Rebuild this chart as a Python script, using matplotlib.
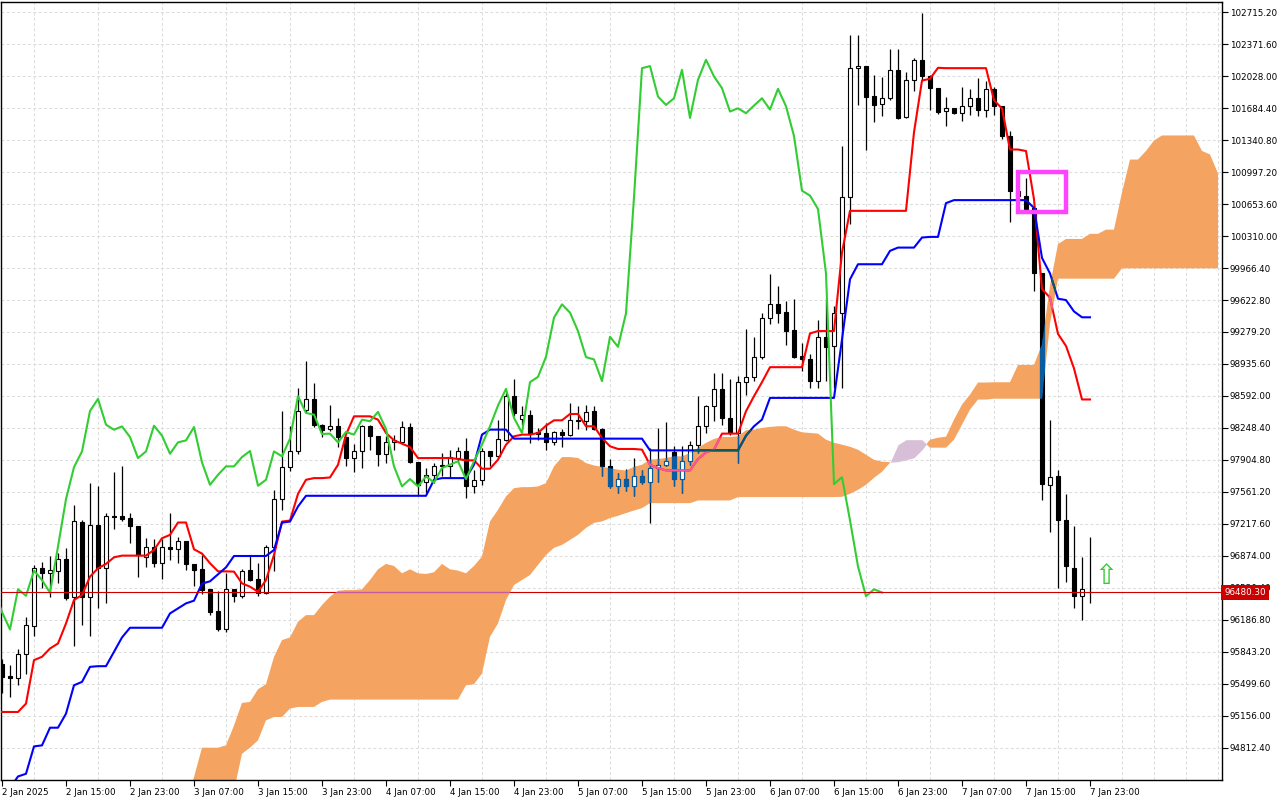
import numpy as np
import matplotlib.pyplot as plt
from matplotlib.path import Path
from matplotlib.patches import Rectangle

# hourly candles, bar 0 = 2 Jan 2025 07:00
opens = [95709, 95580, 95566, 95814, 96122, 96743, 96693, 96715, 96840, 96428,
         97239, 96435, 97207, 96740, 97303, 97303, 97278, 97196, 96865, 96973,
         96801, 96966, 96944, 97034, 96787, 96733, 96517, 96280, 96090, 96513,
         96445, 96722, 96621, 96470, 96973, 97483, 97827, 97996, 98440, 98560,
         98283, 98237, 98265, 98150, 97924, 97996, 98272, 98158, 97971, 98100,
         98097, 98258, 97878, 97662, 97745, 97850, 97842, 97930, 98004, 97627,
         97684, 97996, 97943, 98122, 98596, 98345, 98391, 98201, 98194, 98097,
         98208, 98169, 98337, 98320, 98427, 98237, 97835, 97620, 97699, 97620,
         97735, 97663, 97817, 97853, 97990, 97699, 97889, 98069, 98266, 98481,
         98668, 98356, 98194, 98740, 98797, 99013, 99433, 99576, 99494, 99300,
         99020, 98984, 98751, 99228, 99127, 99480, 100725, 102114, 102136, 101813,
         101727, 101791, 102096, 101586, 101989, 102204, 102025, 101902, 101651, 101687,
         101630, 101712, 101791, 101669, 101892, 101705, 101389, 100797, 100742, 100610,
         99908, 97634, 97730, 97256, 96744, 96440, 96490]
highs = [95760, 95699, 95878, 96219, 96776, 96808, 96873, 96901, 96955, 97422,
         97260, 97655, 97619, 97339, 97770, 97835, 97332, 97196, 97063, 97052,
         97052, 97339, 97074, 97034, 96790, 96883, 96520, 96499, 96686, 96520,
         96730, 96872, 96793, 96990, 97583, 98434, 98272, 98678, 98965, 98732,
         98290, 98499, 98355, 98155, 98079, 98283, 98280, 98165, 98158, 98175,
         98319, 98301, 97885, 97816, 97871, 97979, 98014, 98040, 98140, 97799,
         98032, 98000, 98337, 98625, 98775, 98481, 98445, 98248, 98302, 98212,
         98237, 98517, 98481, 98499, 98481, 98250, 97914, 97763, 97806, 97925,
         97792, 98033, 98248, 98313, 98051, 98051, 98105, 98596, 98499, 98840,
         98840, 98776, 98805, 99307, 99228, 99487, 99899, 99774, 99612, 99630,
         99164, 99038, 99408, 99630, 99558, 101281, 102473, 102473, 102140, 102042,
         102017, 102315, 102322, 102078, 102222, 102710, 102042, 101905, 101802, 101690,
         101910, 101885, 102007, 101981, 101910, 101710, 101443, 100850, 100930, 100615,
         99915, 98331, 97793, 97534, 97189, 96866, 97081]
lows = [95400, 95357, 95483, 95609, 96011, 96524, 96435, 96578, 96399, 95903,
        96130, 96011, 96309, 96370, 97160, 97250, 97009, 96650, 96758, 96758,
        96621, 96830, 96794, 96722, 96550, 96463, 96241, 96069, 96058, 96380,
        96420, 96600, 96441, 96460, 96714, 97361, 97781, 97967, 98420, 98258,
        98150, 98211, 98043, 97834, 97770, 97816, 98007, 97842, 97870, 98014,
        98090, 97870, 97529, 97547, 97655, 97727, 97709, 97880, 97494, 97548,
        97637, 97835, 97925, 98104, 98373, 98284, 98086, 98122, 98014, 98068,
        98043, 98158, 98237, 98230, 98230, 97727, 97602, 97548, 97566, 97519,
        97649, 97225, 97663, 97840, 97620, 97548, 97853, 97979, 98194, 98320,
        98284, 98176, 97871, 98607, 98751, 98984, 99361, 99379, 99135, 99002,
        98858, 98679, 98679, 98750, 98679, 98679, 100438, 101719, 101238, 101540,
        101604, 101777, 101569, 101576, 101874, 101981, 101669, 101622, 101497, 101620,
        101551, 101612, 101604, 101586, 101612, 101353, 100456, 100700, 100595, 99722,
        97478, 97126, 96533, 96588, 96310, 96180, 96366]
closes = [95573, 95566, 95817, 96130, 96740, 96693, 96722, 96837, 96424, 97250,
          96435, 97203, 96740, 97303, 97296, 97271, 97189, 96883, 96973, 96801,
          96966, 96944, 97034, 96783, 96722, 96507, 96270, 96083, 96514, 96445,
          96714, 96614, 96477, 96973, 97483, 97827, 97996, 98430, 98560, 98283,
          98229, 98265, 98150, 97924, 97996, 98272, 98165, 97971, 98093, 98114,
          98258, 97878, 97637, 97744, 97835, 97835, 97935, 98000, 97627, 97691,
          97996, 97943, 98133, 98589, 98409, 98391, 98183, 98187, 98093, 98205,
          98176, 98337, 98320, 98420, 98237, 97835, 97620, 97699, 97620, 97727,
          97663, 97817, 97853, 97890, 97699, 97889, 98069, 98266, 98489, 98668,
          98356, 98194, 98740, 98797, 99013, 99433, 99576, 99487, 99289, 99009,
          98984, 98751, 99228, 99120, 99480, 100725, 102114, 102136, 101809, 101719,
          101791, 102096, 101579, 101989, 102204, 102025, 101899, 101648, 101683, 101630,
          101712, 101791, 101669, 101892, 101705, 101385, 100797, 100745, 100600, 99908,
          97645, 97719, 97256, 96760, 96440, 96514, 96480.3]

tenkan = [95196, 95196, 95196, 95286, 95753, 95789, 95878, 95932, 96147, 96399,
          96453, 96650, 96740, 96787, 96858, 96876, 96876, 96876, 96876, 96937,
          97063, 97099, 97232, 97232, 96944, 96898, 96794, 96707, 96707, 96704,
          96578, 96542, 96488, 96614, 96883, 97242, 97253, 97540, 97691, 97709,
          97709, 97716, 97852, 98176, 98373, 98373, 98373, 98337, 98194, 98115,
          98079, 98043, 97924, 97924, 97925, 97925, 97925, 97914, 97900, 97900,
          97810, 97810, 97907, 98068, 98158, 98176, 98176, 98194, 98273, 98330,
          98330, 98398, 98398, 98266, 98266, 98140, 98051, 98022, 98022, 98022,
          98015, 97853, 97817, 97792, 97792, 97792, 97792, 97914, 97986, 98015,
          98187, 98187, 98187, 98428, 98589, 98740, 98901, 98901, 98901, 98901,
          98901, 99264, 99289, 99289, 99289, 100133, 100581, 100581, 100581, 100581,
          100581, 100581, 100581, 100581, 101425, 101981, 102000, 102118, 102114, 102114,
          102114, 102114, 102114, 102114, 101770, 101680, 101240, 101240, 101224, 100705,
          99741, 99648, 99259, 99129, 98888, 98554, 98554]
kijun = [94300, 94380, 94503, 94532, 94826, 94837, 95027, 95027, 95178, 95483,
         95519, 95681, 95688, 95688, 95843, 95997, 96101, 96101, 96101, 96101,
         96101, 96255, 96309, 96363, 96392, 96575, 96600, 96675, 96750, 96872,
         96872, 96872, 96872, 96872, 96937, 97231, 97242, 97404, 97519, 97519,
         97519, 97519, 97519, 97519, 97519, 97519, 97519, 97519, 97519, 97519,
         97519, 97519, 97519, 97519, 97691, 97709, 97709, 97709, 97709, 97853,
         98176, 98230, 98230, 98230, 98133, 98133, 98133, 98133, 98133, 98133,
         98133, 98133, 98133, 98133, 98133, 98133, 98133, 98133, 98133, 98133,
         98133, 98007, 98007, 98007, 98007, 98007, 98007, 98007, 98007, 98007,
         98007, 98007, 98007, 98165, 98266, 98338, 98571, 98571, 98571, 98571,
         98571, 98571, 98571, 98571, 98571, 99199, 99845, 100007, 100007, 100007,
         100007, 100151, 100186, 100186, 100186, 100294, 100301, 100301, 100664, 100696,
         100696, 100696, 100696, 100696, 100696, 100696, 100696, 100696, 100696, 100612,
         100075, 99908, 99637, 99622, 99500, 99437, 99437]

# cloud, bars 22..152 (shifted 26 bars ahead)
cloud_first_bar = 22
span_a = [94150, 94250, 94495, 94812, 94812, 94812, 94837, 95050,
          95293, 95304, 95440, 95494, 95788, 95968, 95997, 96165, 96237, 96237,
          96345, 96435, 96499, 96506, 96506, 96514, 96614, 96729, 96787, 96765,
          96686, 96729, 96686, 96679, 96697, 96787, 96729, 96715, 96686, 96765,
          96866, 97243, 97368, 97512, 97601, 97612, 97612, 97619, 97655, 97835,
          97935, 97935, 97925, 97871, 97845, 97830, 97815, 97800, 97790, 97830,
          97853, 97907, 97914, 97925, 97943, 97943, 97979, 98033, 98087, 98130,
          98151, 98151, 98158, 98223, 98230, 98248, 98259, 98266, 98266, 98230,
          98201, 98194, 98187, 98122, 98089, 98068, 98046, 98014, 97960, 97906,
          97885, 97880, 97885, 97906, 97928, 98014, 98122, 98143, 98154, 98337,
          98499, 98606, 98736, 98736, 98739, 98739, 98739, 98925, 98925, 98925,
          99147, 99778, 100223, 100279, 100279, 100279, 100334, 100334, 100379, 100379,
          100779, 101132, 101132, 101224, 101336, 101391, 101391, 101391, 101391, 101391,
          101224, 101187, 100983]
span_b = [93900, 93950, 94000, 94050, 94100, 94150, 94200, 94350,
          94747, 94812, 94891, 95106, 95142, 95142, 95232, 95250, 95250, 95250,
          95304, 95329, 95329, 95329, 95329, 95329, 95329, 95329, 95329, 95329,
          95329, 95329, 95329, 95329, 95329, 95329, 95329, 95329, 95483, 95494,
          95609, 96004, 96147, 96399, 96560, 96614, 96668, 96776, 96883, 96960,
          96991, 97045, 97099, 97174, 97228, 97243, 97279, 97304, 97333, 97361,
          97386, 97440, 97440, 97440, 97440, 97440, 97440, 97469, 97469, 97469,
          97469, 97469, 97505, 97505, 97505, 97505, 97505, 97505, 97505, 97505,
          97505, 97505, 97505, 97505, 97505, 97508, 97540, 97583, 97637, 97712,
          97777, 97874, 98068, 98122, 98122, 98122, 98036, 98036, 98036, 98122,
          98283, 98445, 98553, 98553, 98562, 98562, 98562, 98562, 98562, 98562,
          98562, 99370, 99852, 99852, 99852, 99852, 99852, 99852, 99852, 99852,
          99963, 99963, 99963, 99963, 99963, 99963, 99963, 99963, 99963, 99963,
          99963, 99963, 99963]

price_ticks = [102715.20, 102371.60, 102028.00, 101684.40, 101340.80, 100997.20,
               100653.60, 100310.00, 99966.40, 99622.80, 99279.20, 98935.60,
               98592.00, 98248.40, 97904.80, 97561.20, 97217.60, 96874.00,
               96530.40, 96186.80, 95843.20, 95499.60, 95156.00, 94812.40]
time_labels = ['2 Jan 2025', '2 Jan 15:00', '2 Jan 23:00', '3 Jan 07:00', '3 Jan 15:00',
               '3 Jan 23:00', '4 Jan 07:00', '4 Jan 15:00', '4 Jan 23:00', '5 Jan 07:00',
               '5 Jan 15:00', '5 Jan 23:00', '6 Jan 07:00', '6 Jan 15:00', '6 Jan 23:00',
               '7 Jan 07:00', '7 Jan 15:00', '7 Jan 23:00']
last_price = 96480.30
box_bars = (127, 133)
box_prices = (100569, 101003)
signal_bar = 138
signal_price = 96660

CLOUD = '#F4A460'
CLOUD_DOWN = '#D8BFD8'
# colours that show where MT5 xor-draws over the cloud
XOR_BLACK = '#0B5B9F'
XOR_RED = '#F45B9F'
XOR_BLUE = '#0B5B60'
XOR_PRICE = '#C75B9F'

o = np.array(opens, float)
h = np.array(highs, float)
l = np.array(lows, float)
c = np.array(closes, float)
idx = np.arange(len(c))
cx = np.arange(cloud_first_bar, cloud_first_bar + len(span_a))
sa = np.array(span_a, float)
sb = np.array(span_b, float)

fig = plt.figure(figsize=(12.8, 8), dpi=100)
ax = fig.add_axes([1 / 1280, 20 / 800, 1221 / 1280, 778 / 800])
ax.set_xlim(-0.125, 152.5)
ax.set_ylim(94465, 102825)

# cloud
up_cloud = ax.fill_between(cx, sa, sb, where=sa >= sb, interpolate=True,
                           color=CLOUD, lw=0, zorder=1)
ax.fill_between(cx, sa, sb, where=sa < sb, interpolate=True,
                color=CLOUD_DOWN, lw=0, zorder=1)
clip = Path.make_compound_path(*up_cloud.get_paths())


def draw_candles(wick, bear, bull_face, edge, z, clip_path=None):
    bull = c >= o
    arts = [ax.vlines(idx, l, h, color=wick, lw=0.9, zorder=z)]
    bot = np.minimum(o, c)
    hgt = np.maximum(np.abs(c - o), 4)
    bars = ax.bar(idx, hgt, bottom=bot, width=0.56,
                  color=np.where(bull, bull_face, bear), edgecolor=edge,
                  linewidth=0.8, zorder=z + 0.1)
    arts += list(bars)
    if clip_path is not None:
        for a in arts:
            a.set_clip_path(clip_path, ax.transData)


draw_candles('black', 'black', 'white', 'black', 3)
draw_candles(XOR_BLACK, XOR_BLACK, 'white', XOR_BLACK, 3.3, clip)

ax.plot(idx, tenkan, color='red', lw=1.5, zorder=4)
ax.plot(idx, kijun, color='blue', lw=1.5, zorder=4)
for vals, col in ((tenkan, XOR_RED), (kijun, XOR_BLUE)):
    ln, = ax.plot(idx, vals, color=col, lw=1.5, zorder=4.1)
    ln.set_clip_path(clip, ax.transData)

# lagging span: close plotted 26 bars back
ax.plot(idx - 26, c, color='#32CD32', lw=1.5, zorder=4.2)

ax.axhline(last_price, color='#cc0000', lw=0.8, zorder=4.3)
pl = ax.axhline(last_price, color=XOR_PRICE, lw=0.8, zorder=4.31)
pl.set_clip_path(clip, ax.transData)

ax.add_patch(Rectangle((box_bars[0], box_prices[0]), box_bars[1] - box_bars[0],
                       box_prices[1] - box_prices[0], fill=False,
                       edgecolor='#FF44FF', lw=3.2, joinstyle='miter', zorder=5))
ax.text(signal_bar, signal_price, '\u21e7', color='#38C838', fontsize=20,
        ha='center', va='center', zorder=5)

# axes styling
ax.yaxis.tick_right()
ax.set_yticks(price_ticks)
ax.set_yticklabels(['%.2f' % v for v in price_ticks])
ax.set_xticks(np.arange(0, len(c), 8))
ax.set_xticklabels(time_labels)
ax.set_xticks(np.arange(0, 153, 4), minor=True)
for lab in ax.get_xticklabels():
    lab.set_ha('left')
ax.tick_params(axis='both', which='major', labelsize=6.3, length=4, width=0.8,
               direction='out', pad=1.5, colors='black')
ax.tick_params(axis='x', which='minor', length=0)
ax.grid(axis='y', which='major', color='#dddddd', lw=0.75, ls=(0, (2.9, 2.2)))
ax.grid(axis='x', which='minor', color='#dddddd', lw=0.75, ls=(0, (2.9, 2.2)))
ax.set_axisbelow(True)
for s in ax.spines.values():
    s.set_color('black')
    s.set_linewidth(1)

# current price tag on the scale (it sits over the 96530.40 label, as in MT5)
ax.text(1.002, last_price, '96480.30', transform=ax.get_yaxis_transform(),
        ha='left', va='center', fontsize=6.3, color='white', zorder=6,
        clip_on=False,
        bbox=dict(boxstyle='square,pad=0.35', fc='#cc0000', ec='none'))

fig.savefig('out.png', dpi=100)
plt.close()
